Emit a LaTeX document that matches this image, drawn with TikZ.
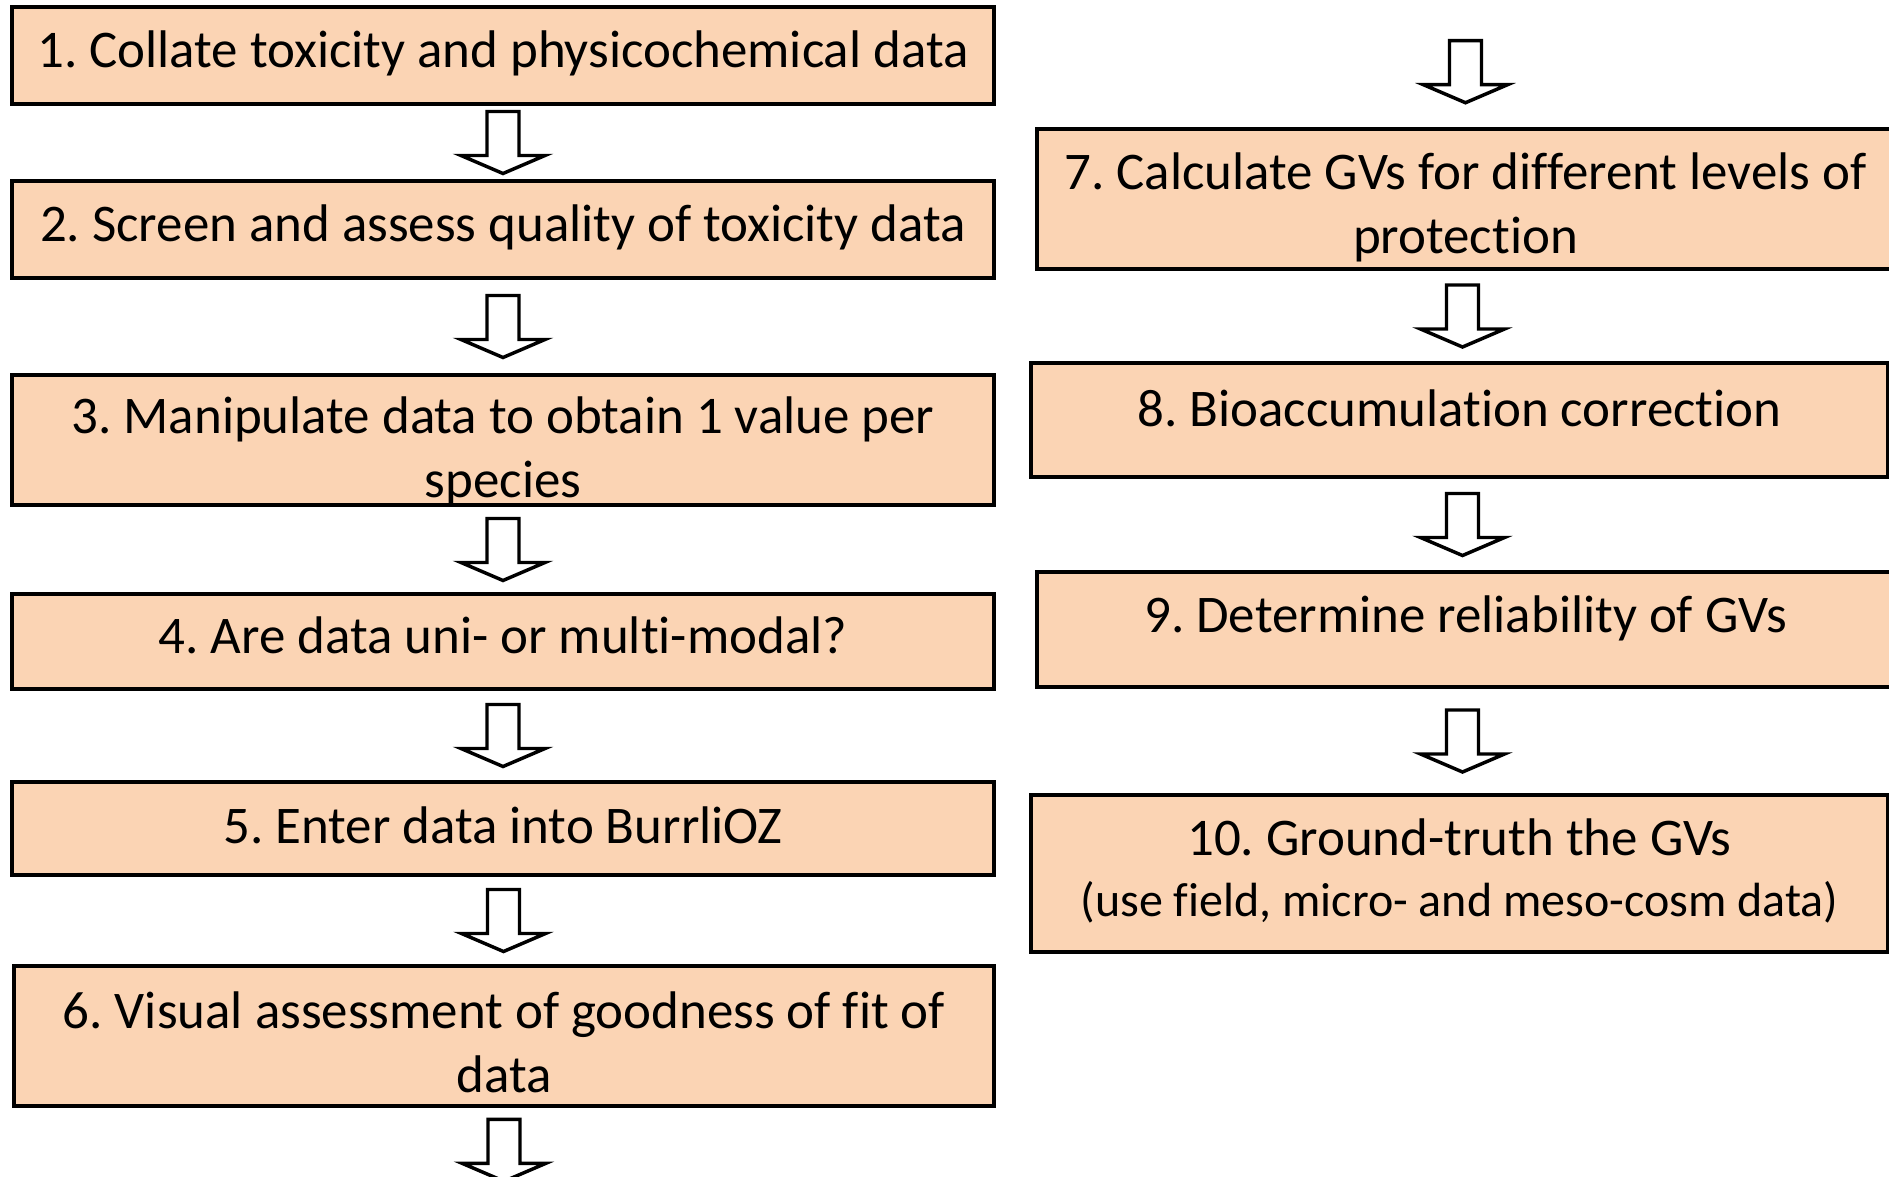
\documentclass[tikz,border=0pt]{standalone}
\usepackage{fontspec}
\setmainfont{Carlito}[Ligatures=NoCommon]
\frenchspacing
\usetikzlibrary{calc}

\definecolor{boxfill}{RGB}{251,212,180}

\tikzset{every picture/.style={line width=0.75pt}}
\tikzset{
  stepbox/.style={draw=black, line width=3.4pt, fill=boxfill, inner sep=0pt},
  leftbox/.style={stepbox, minimum width=982*0.75pt},
  rightbox/.style={stepbox, minimum width=857*0.75pt},
  steptext/.style={align=center, inner sep=0pt, font=\fontsize{39.7}{48}\selectfont},
  downarrow/.pic={
    \draw[line width=2.6pt, fill=white] (-16,31) -- (16,31) -- (16,-13) -- (42,-13) -- (0,-31) -- (-42,-13) -- (-16,-13) -- cycle ;
  }
}

\begin{document}
\begin{tikzpicture}[x=0.75pt,y=0.75pt,yscale=-1,xscale=1]
	\useasboundingbox (0,0) rectangle (1889,1177);

	%Shape: Rectangle [left column]
	\node[leftbox, minimum height=97*0.75pt] (b1) at (503,55.5) {};
	\node[leftbox, minimum height=97*0.75pt] (b2) at (503,229.5) {};
	\node[leftbox, minimum height=130*0.75pt] (b3) at (503,440) {};
	\node[leftbox, minimum height=95*0.75pt] (b4) at (503,641.5) {};
	\node[leftbox, minimum height=93*0.75pt] (b5) at (503,828.5) {};
	\node[leftbox, minimum width=980*0.75pt, minimum height=140*0.75pt] (b6) at (504,1036) {};

	%Shape: Rectangle [right column]
	\node[rightbox, minimum height=140*0.75pt] (b7) at (1465.5,199) {};
	\node[rightbox, minimum height=114*0.75pt] (b8) at (1459.5,420) {};
	\node[rightbox, minimum height=115*0.75pt] (b9) at (1465.5,629.5) {};
	\node[rightbox, minimum height=157*0.75pt] (b10) at (1459.5,873.5) {};

	% Text Node
	\node[steptext] (t1) at ($(b1)+(0,-2.5)$) {1. Collate toxicity and physicochemical data};
	% Text Node
	\node[steptext] (t2) at ($(b2)+(0,-2.5)$) {2. Screen and assess quality of toxicity data};
	% Text Node
	\node[steptext] (t3) at ($(b3)+(0,11)$) {3. Manipulate data to obtain 1 value per\\species};
	% Text Node
	\node[steptext] (t4) at ($(b4)+(0,-6)$) {4. Are data uni- or multi-modal?};
	% Text Node
	\node[steptext] (t5) at ($(b5)+(0,-3.5)$) {5. Enter data into BurrliOZ};
	% Text Node
	\node[steptext] (t6) at ($(b6)+(0,6)$) {6. Visual assessment of goodness of fit of\\data};
	% Text Node
	\node[steptext] (t7) at ($(b7)+(0,8.5)$) {7. Calculate GVs for different levels of\\protection};
	% Text Node
	\node[steptext] (t8) at ($(b8)+(0,-12)$) {8. Bioaccumulation correction};
	% Text Node
	\node[steptext] (t9) at ($(b9)+(0,-11)$) {9. Determine reliability of GVs};
	% Text Node
	\node[steptext] (t10) at ($(b10)+(0,-3)$) {10. Ground-truth the GVs\\[-2.3pt]\fontsize{36}{46}\selectfont (use field, micro- and meso-cosm data)};

	%Block Arrows
	\foreach \a/\b in {b1/b2,b2/b3,b3/b4,b4/b5,b5/b6,b7/b8,b8/b9,b9/b10}
	  \pic at ($(\a.south)!0.5!(\b.north)$) {downarrow};
	\pic at ($(b6.south)+(0,42)$) {downarrow};
	\pic at ($(b7.north)+(0,-55)$) {downarrow};

\end{tikzpicture}
\end{document}
